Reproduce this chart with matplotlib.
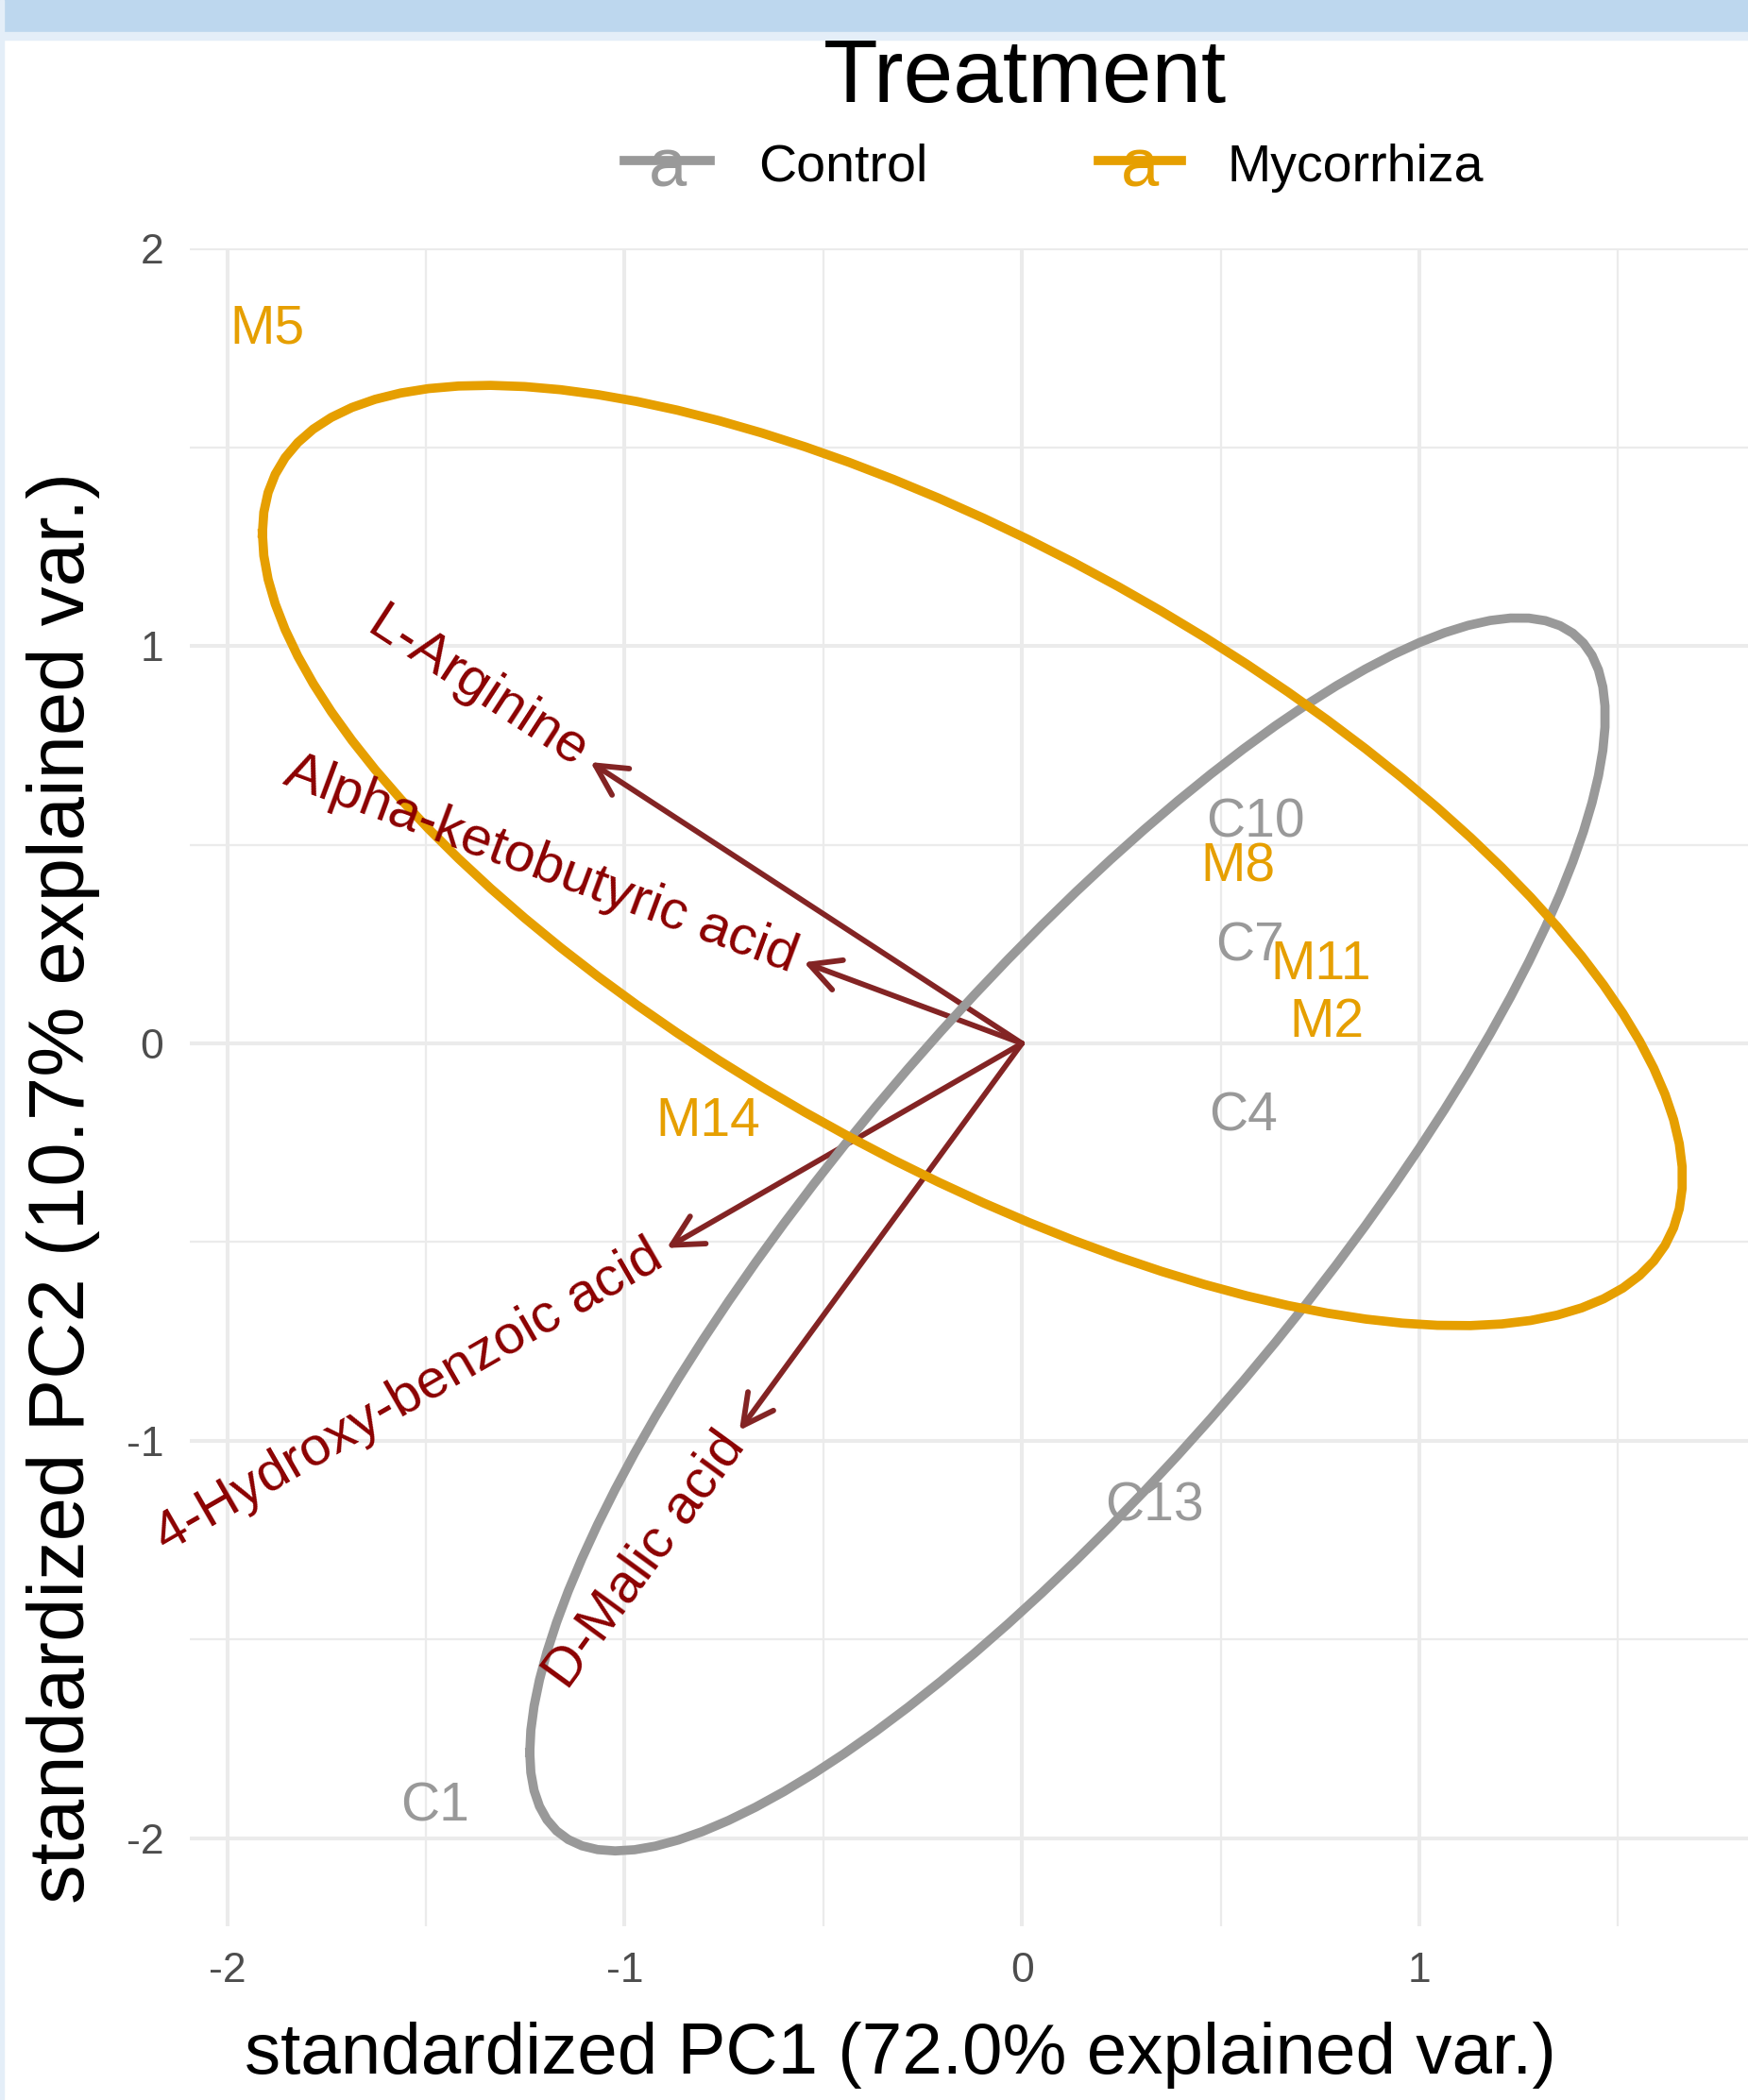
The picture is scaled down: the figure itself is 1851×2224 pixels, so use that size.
import numpy as np
import matplotlib
matplotlib.use("Agg")
import matplotlib.pyplot as plt
from matplotlib.patches import Rectangle, FancyArrowPatch
from matplotlib.lines import Line2D

plt.rcParams["font.family"] = ["Liberation Sans", "DejaVu Sans"]
plt.rcParams["axes.unicode_minus"] = False

# sample scores (standardized PC1 / PC2)
sample_names = ["C1", "M2", "C4", "M5", "C7", "M8", "C10", "M11", "C13", "M14"]
sample_group = ["Control", "Mycorrhiza", "Control", "Mycorrhiza", "Control",
                "Mycorrhiza", "Control", "Mycorrhiza", "Control", "Mycorrhiza"]
pc1 = [-1.478, 0.768, 0.558, -1.899, 0.573, 0.544, 0.587, 0.753, 0.333, -0.789]
pc2 = [-1.907, 0.066, -0.169, 1.812, 0.257, 0.458, 0.568, 0.211, -1.152, -0.183]

# variable loadings (arrow tips)
var_names = ["L-Arginine", "Alpha-ketobutyric acid", "4-Hydroxy-benzoic acid", "D-Malic acid"]
var_x = [-1.086, -0.549, -0.894, -0.711]
var_y = [0.708, 0.204, -0.515, -0.974]

groups = ["Control", "Mycorrhiza"]
group_colors = {"Control": "#999999", "Mycorrhiza": "#E69F00"}
ellipse_prob = 0.68

W, H = 1851, 2224
fig = plt.figure(figsize=(W / 100, H / 100), dpi=100)
fig.patch.set_facecolor("white")

# screenshot frame
fig.patches.append(Rectangle((0, 1 - 34 / H), 1, 34 / H, transform=fig.transFigure,
                             color="#BDD7EE", zorder=0))
fig.patches.append(Rectangle((0, 1 - 42 / H), 1, 8 / H, transform=fig.transFigure,
                             color="#E4EEF8", zorder=0))
fig.patches.append(Rectangle((0, 0), 4 / W, 1, transform=fig.transFigure,
                             color="#E4EEF8", zorder=0))

ax = fig.add_axes([201 / W, 184 / H, (W - 201) / W, (2040 - 263) / H])
ax.set_facecolor("white")

pc1 = np.array(pc1)
pc2 = np.array(pc2)
gmask = np.array(sample_group)

# arrows
for vx, vy in zip(var_x, var_y):
    arr = FancyArrowPatch((0, 0), (vx, vy), arrowstyle="->,head_length=23,head_width=12",
                          mutation_scale=1, color="#832424", lw=4.2,
                          shrinkA=0, shrinkB=0, zorder=3, capstyle="round")
    ax.add_patch(arr)

# sample labels
for name, x, y, g in zip(sample_names, pc1, pc2, sample_group):
    ax.text(x, y, name, color=group_colors[g], fontsize=41,
            ha="center", va="center_baseline", zorder=4)

# normal data ellipses, as in ggbiplot
theta = np.linspace(-np.pi, np.pi, 100)
circle = np.column_stack([np.cos(theta), np.sin(theta)])
ed = np.sqrt(-2 * np.log(1 - ellipse_prob))
for g in groups:
    m = gmask == g
    xy = np.column_stack([pc1[m], pc2[m]])
    sigma = np.cov(xy, rowvar=False)
    mu = xy.mean(axis=0)
    ell = circle @ np.linalg.cholesky(sigma).T * ed + mu
    ax.plot(ell[:, 0], ell[:, 1], color=group_colors[g], lw=7.0, zorder=5,
            solid_joinstyle="miter")

# variable names
for name, vx, vy in zip(var_names, var_x, var_y):
    ang = np.degrees(np.arctan(vy / vx))
    a = np.radians(ang)
    gap = 7
    ax.annotate(name, xy=(vx, vy), xytext=(-gap * np.cos(a), -gap * np.sin(a)),
                textcoords="offset points", ha="right", va="center",
                rotation=ang, rotation_mode="anchor", color="#8B0000",
                fontsize=42, zorder=6)

ax.set_xlim(-2.094, 1.827)
ax.set_ylim(-2.221, 2.0)
ax.set_aspect("equal", adjustable="box")

ax.set_xticks([-2, -1, 0, 1])
ax.set_xticklabels(["-2", "-1", "0", "1"])
ax.set_yticks([-2, -1, 0, 1, 2])
ax.set_yticklabels(["-2", "-1", "0", "1", "2"])
ax.set_xticks([-1.5, -0.5, 0.5, 1.5], minor=True)
ax.set_yticks([-1.5, -0.5, 0.5, 1.5], minor=True)
ax.tick_params(which="both", length=0, pad=20, labelsize=32, labelcolor="#4D4D4D")
ax.grid(which="major", color="#EBEBEB", lw=2.9)
ax.grid(which="minor", color="#EBEBEB", lw=1.6)
ax.set_axisbelow(True)
for s in ax.spines.values():
    s.set_visible(False)

ax.set_xlabel("standardized PC1 (72.0% explained var.)", fontsize=55)
ax.set_ylabel("standardized PC2 (10.7% explained var.)", fontsize=60)
ax.xaxis.set_label_coords((953 - 201) / (W - 201), (2040 - 2177) / (2040 - 263))
ax.yaxis.set_label_coords((67 - 201) / (W - 201), (2040 - 1258) / (2040 - 263))
ax.xaxis.label.set_va("center")
ax.yaxis.label.set_va("center")

# legend (drawn by hand to match the ggplot layout)
fig.text(1085 / W, 1 - 108 / H, "Treatment", ha="center", va="baseline", fontsize=68)
key_spots = {"Control": (661, 752, 803), "Mycorrhiza": (1163, 1251, 1299)}
for g in groups:
    x0, x1, tx = key_spots[g]
    fig.add_artist(Line2D([x0 / W, x1 / W], [1 - 170 / H, 1 - 170 / H],
                          transform=fig.transFigure, color=group_colors[g], lw=7.0))
    fig.text((x0 + x1) / 2 / W, 1 - 197 / H, "a", ha="center", va="baseline",
             color=group_colors[g], fontsize=52)
    fig.text(tx / W, 1 - 192 / H, g, ha="left", va="baseline", fontsize=40)

fig.savefig("out.png", dpi=100)
